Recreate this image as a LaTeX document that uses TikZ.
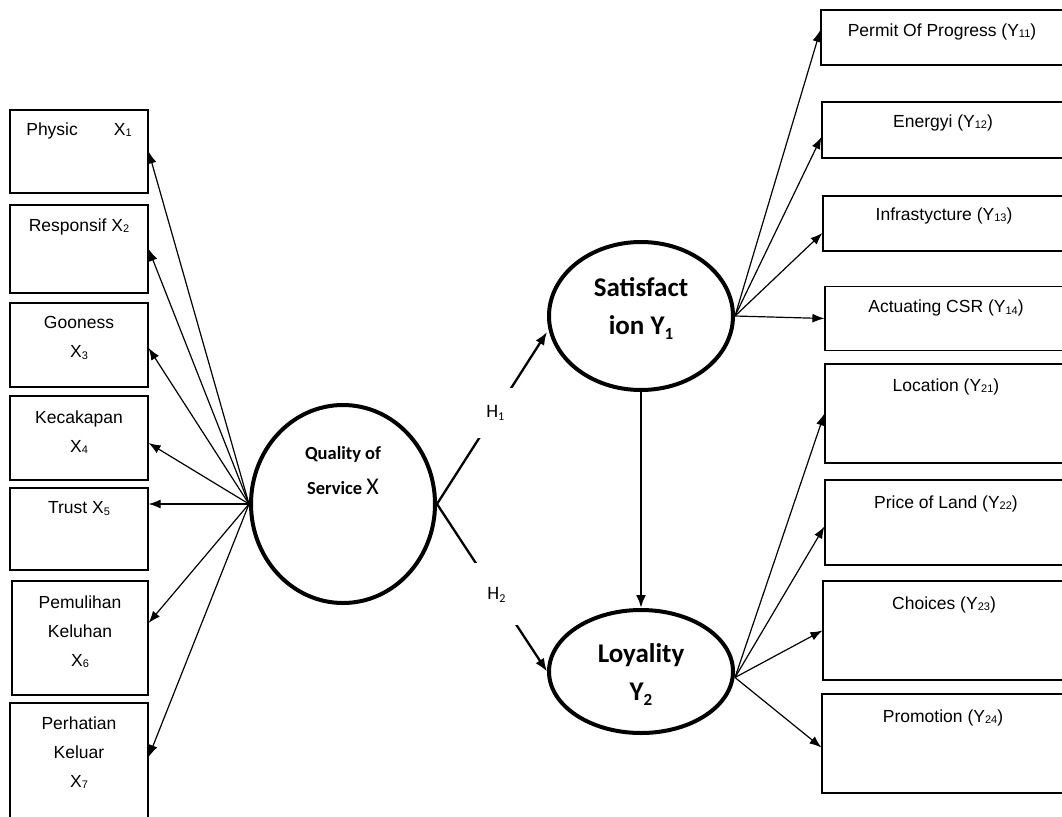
\documentclass[tikz,border=0pt]{standalone}
\usepackage{fontspec}
\setmainfont{Liberation Sans}
\newfontfamily\calibri{Carlito}
\usetikzlibrary{arrows.meta,positioning,shapes.geometric}
\newcommand\lsub[1]{\raisebox{-1.5pt}{\fontsize{11}{11}\selectfont #1}}
\newcommand\csub[1]{\raisebox{-5pt}{\fontsize{17}{17}\selectfont #1}}
\newcommand\hsub[1]{\raisebox{-3pt}{\fontsize{12}{12}\selectfont #1}}
\tikzset{
  ind/.style={draw, line width=1.2pt, minimum width=138pt, inner sep=0pt},
  indr/.style={draw, line width=1.2pt, minimum width=242pt, inner sep=0pt},
  itxt/.style={inner sep=0pt, align=center, font=\fontsize{17.5}{29}\selectfont},
  latent/.style={draw, ellipse, line width=4pt, minimum width=184pt, inner sep=0pt},
  ltxt/.style={inner sep=0pt, align=center, font=\calibri\bfseries\fontsize{27}{38}\selectfont},
  qtxt/.style={inner sep=0pt, align=center, font=\calibri\bfseries\fontsize{18.5}{35}\selectfont},
  fan/.style={line width=1.2pt, -{Latex[length=12pt,width=9pt]}},
  hyp/.style={line width=2.3pt, -{Latex[length=13pt,width=10pt]}},
  hlab/.style={fill=white, inner sep=0pt, font=\calibri\fontsize{19}{19}\selectfont}
}
\begin{document}
\begin{tikzpicture}[x=1pt,y=-1pt]
  \useasboundingbox (0,0) rectangle (1062,816);

  % indicators of X
  \node[ind, minimum height=83pt]  (x1) at (79,151.5) {};
  \node[ind, minimum height=88pt]  (x2) at (79,249) {};
  \node[ind, minimum height=84pt]  (x3) at (79,345) {};
  \node[ind, minimum height=84pt]  (x4) at (79,438) {};
  \node[ind, minimum height=82pt]  (x5) at (79,529) {};
  \node[ind, minimum width=136pt, minimum height=114pt] (x6) at (80,638) {};
  \node[ind, minimum height=120pt] (x7) at (79,763) {};
  \node[itxt, below=13pt of x1.north] (t1) {Physic\hspace{36pt}X\lsub{1}};
  \node[itxt, below=14pt of x2.north] (t2) {Responsif X\lsub{2}};
  \node[itxt, below=14pt of x3.north] (t3) {Gooness\\X\lsub{3}};
  \node[itxt, below=15pt of x4.north] (t4) {Kecakapan\\X\lsub{4}};
  \node[itxt, below=14pt of x5.north] (t5) {Trust X\lsub{5}};
  \node[itxt, below=15pt of x6.north] (t6) {Pemulihan\\Keluhan\\X\lsub{6}};
  \node[itxt, below=14pt of x7.north] (t7) {Perhatian\\Keluar\\X\lsub{7}};

  % indicators of Y1 and Y2
  \node[indr, minimum height=55pt]  (y11) at (942,37.5) {};
  \node[indr, minimum height=56pt]  (y12) at (943,130) {};
  \node[indr, minimum height=55pt]  (y13) at (944,223.5) {};
  \node[indr, minimum height=64pt]  (y14) at (946,318.5) {};
  \node[indr, minimum height=99pt]  (y21) at (946,413.5) {};
  \node[indr, minimum height=85pt]  (y22) at (946,522.5) {};
  \node[indr, minimum height=99pt]  (y23) at (944,630.5) {};
  \node[indr, minimum height=99pt]  (y24) at (943,743.5) {};
  \node[itxt, below=14pt of y11.north] (u11) {Permit Of Progress (Y\lsub{11})};
  \node[itxt, below=13pt of y12.north] (u12) {Energyi (Y\lsub{12})};
  \node[itxt, below=12pt of y13.north] (u13) {Infrastycture (Y\lsub{13})};
  \node[itxt, below=14pt of y14.north] (u14) {Actuating CSR (Y\lsub{14})};
  \node[itxt, below=15pt of y21.north] (u21) {Location (Y\lsub{21})};
  \node[itxt, below=16pt of y22.north] (u22) {Price of Land (Y\lsub{22})};
  \node[itxt, below=16pt of y23.north] (u23) {Choices (Y\lsub{23})};
  \node[itxt, below=16pt of y24.north] (u24) {Promotion (Y\lsub{24})};

  % latent variables
  \node[latent, minimum height=198pt] (qs)  at (343,504) {};
  \node[latent, minimum height=148pt] (sat) at (641,316) {};
  \node[latent, minimum height=123pt] (loy) at (641,671.5) {};
  \node[qtxt, below=43pt of qs.north] (qst)
    {Quality of\\Service {\mdseries\fontsize{24}{24}\selectfont X}};
  \node[ltxt, below=37pt of sat.north] (satt) {Satisfact\\ion Y\csub{1}};
  \node[ltxt, below=35pt of loy.north] (loyt) {Loyality\\Y\csub{2}};

  \draw[fan] (qs.west) -- (x1.east);
  \draw[fan] (qs.west) -- (x2.east);
  \draw[fan] (qs.west) -- ([yshift=-3pt]x3.east);
  \draw[fan] (qs.west) -- ([yshift=-5pt]x4.east);
  \draw[fan] (qs.west) -- (qs.west -| x5.east);
  \draw[fan] (qs.west) -- ([yshift=15pt]x6.east);
  \draw[fan] (qs.west) -- ([yshift=6pt]x7.east);

  \draw[fan] (sat.east) -- ([yshift=7.5pt]y11.west);
  \draw[fan] (sat.east) -- ([yshift=-7pt]y12.west);
  \draw[fan] (sat.east) -- ([yshift=-9.5pt]y13.west);
  \draw[fan] (sat.east) -- (y14.west);
  \draw[fan] ([yshift=-6pt]loy.east) -- (y21.west);
  \draw[fan] ([yshift=-6pt]loy.east) -- ([yshift=-4pt]y22.west);
  \draw[fan] ([yshift=-6pt]loy.east) -- (y23.west);
  \draw[fan] ([yshift=-6pt]loy.east) -- ([yshift=-4pt]y24.west);

  \draw[hyp] (qs.east) -- node[hlab, pos=0.53, minimum width=36pt, minimum height=50pt] (h1) {H\hsub{1}} ([yshift=-16pt]sat.west);
  \draw[hyp] (qs.east) -- node[hlab, pos=0.54, minimum width=46pt, minimum height=62pt] (h2) {H\hsub{2}} (loy.west);
  \draw[hyp] (sat.south) -- (loy.north);
\end{tikzpicture}
\end{document}
